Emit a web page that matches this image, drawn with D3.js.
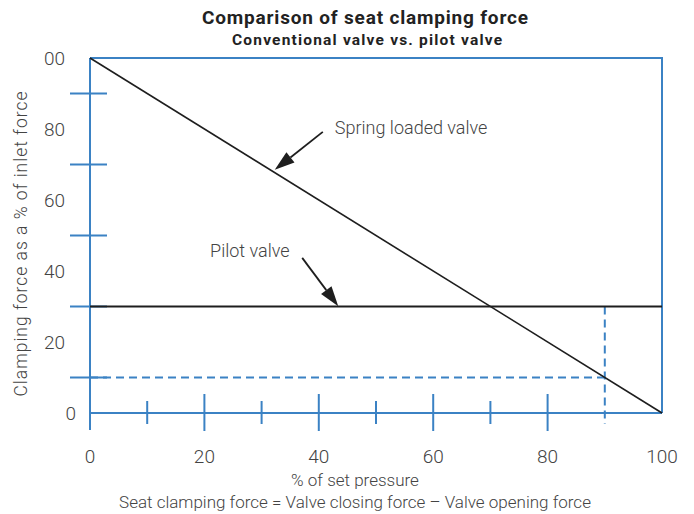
<!DOCTYPE html>
<html>
<head>
<meta charset="utf-8">
<script src="https://cdn.jsdelivr.net/npm/d3@7"></script>
<style>
body { margin: 0; background: #fff; }
text { font-family: Roboto, "Liberation Sans", sans-serif; }
</style>
</head>
<body>
<script>
// chart values
const xLabels = [0, 20, 40, 60, 80, 100];
const yLabels = [0, 20, 40, 60, 80, 100];
const yLabelText = ["0", "20", "40", "60", "80", "00"];
const xMinorTicks = [10, 30, 50, 70];
const xMajorTicks = [20, 40, 60, 80];
const yTicks = [10, 30, 50, 70, 90];
const springValve = [[0, 100], [100, 0]];
const pilotValve = [[0, 30], [100, 30]];
const guideH = [[0, 10], [90, 10]];
const guideV = [[90, 30], [90, -3.1]];
const notes = [
  { text: "Spring loaded valve", tx: 42.8, ty: 78.5, from: [40.7, 79.2], to: [32.3, 68.5] },
  { text: "Pilot valve", tx: 21, ty: 44, from: [37.1, 43.7], to: [43.4, 30.1] }
];

const W = 694, H = 514;
const blue = "#3b82c4", ink = "#1e1e1e", grey = "#444";

const svg = d3.select("body").append("svg")
  .attr("width", W).attr("height", H);

const x = d3.scaleLinear().domain([0, 100]).range([90, 662]);
const y = d3.scaleLinear().domain([0, 100]).range([413, 58]);

// titles
svg.append("text").attr("x", 365).attr("y", 24)
  .attr("text-anchor", "middle").attr("font-size", 19).attr("font-weight", "bold")
  .attr("textLength", 326).attr("lengthAdjust", "spacing")
  .attr("fill", "#222").text("Comparison of seat clamping force");
svg.append("text").attr("x", 367).attr("y", 45)
  .attr("text-anchor", "middle").attr("font-size", 15.5).attr("font-weight", "bold")
  .attr("textLength", 270).attr("lengthAdjust", "spacing")
  .attr("fill", "#222").text("Conventional valve vs. pilot valve");

// frame
const frame = svg.append("g").attr("stroke", blue).attr("stroke-width", 2).attr("fill", "none");
frame.append("path").attr("d", `M${x(0)},${y(100)}H${x(100)}V${y(0)}`);
frame.append("line").attr("x1", x(0)).attr("x2", x(0)).attr("y1", y(100)).attr("y2", 430);
frame.append("line").attr("x1", x(0)).attr("x2", x(100)).attr("y1", y(0)).attr("y2", y(0));

frame.selectAll(".yt").data(yTicks).join("line")
  .attr("x1", 70).attr("x2", 107).attr("y1", d => y(d)).attr("y2", d => y(d));
frame.selectAll(".xmin").data(xMinorTicks).join("line")
  .attr("x1", d => x(d)).attr("x2", d => x(d)).attr("y1", 401).attr("y2", 424);
frame.selectAll(".xmaj").data(xMajorTicks).join("line")
  .attr("x1", d => x(d)).attr("x2", d => x(d)).attr("y1", 394).attr("y2", 431);

// dashed guides
const line = d3.line().x(d => x(d[0])).y(d => y(d[1]));
[guideH, guideV].forEach(g => {
  svg.append("path").attr("d", line(g))
    .attr("fill", "none").attr("stroke", blue).attr("stroke-width", 2)
    .attr("stroke-dasharray", "8,5");
});

// valve lines
svg.append("path").attr("d", line(springValve))
  .attr("fill", "none").attr("stroke", ink).attr("stroke-width", 1.6);
svg.append("path").attr("d", line(pilotValve))
  .attr("fill", "none").attr("stroke", ink).attr("stroke-width", 2);

// tick labels
svg.selectAll(".yl").data(yLabels).join("text")
  .attr("x", d => d === 0 ? 76 : 65).attr("y", d => y(d) + 7)
  .attr("text-anchor", "end").attr("font-size", 19).attr("font-weight", 300)
  .attr("fill", grey).text((d, i) => yLabelText[i]);
svg.selectAll(".xl").data(xLabels).join("text")
  .attr("x", d => x(d)).attr("y", 463)
  .attr("text-anchor", "middle").attr("font-size", 19).attr("font-weight", 300)
  .attr("fill", grey).text(d => d);

// axis titles
svg.append("text").attr("x", 355).attr("y", 486)
  .attr("text-anchor", "middle").attr("font-size", 17).attr("font-weight", 300)
  .attr("fill", grey).text("% of set pressure");
svg.append("text").attr("x", 355).attr("y", 508)
  .attr("text-anchor", "middle").attr("font-size", 17).attr("font-weight", 300)
  .attr("fill", grey).text("Seat clamping force = Valve closing force \u2013 Valve opening force");
svg.append("text").attr("transform", "translate(27,244) rotate(-90)")
  .attr("text-anchor", "middle").attr("font-size", 17.5).attr("font-weight", 300)
  .attr("textLength", 305).attr("lengthAdjust", "spacing")
  .attr("fill", grey).text("Clamping force as a % of inlet force");

// annotations with arrows
notes.forEach(n => {
  svg.append("text").attr("x", x(n.tx)).attr("y", y(n.ty))
    .attr("font-size", 18).attr("font-weight", 300).attr("fill", grey).text(n.text);
  const x1 = x(n.from[0]), y1 = y(n.from[1]), x2 = x(n.to[0]), y2 = y(n.to[1]);
  const a = Math.atan2(y2 - y1, x2 - x1), len = 20, half = 6.5;
  const bx = x2 - len * Math.cos(a), by = y2 - len * Math.sin(a);
  svg.append("line").attr("x1", x1).attr("y1", y1).attr("x2", bx).attr("y2", by)
    .attr("stroke", ink).attr("stroke-width", 1.8);
  svg.append("path")
    .attr("d", `M${x2},${y2}L${bx + half * Math.sin(a)},${by - half * Math.cos(a)}L${bx - half * Math.sin(a)},${by + half * Math.cos(a)}Z`)
    .attr("fill", ink);
});
</script>
</body>
</html>
